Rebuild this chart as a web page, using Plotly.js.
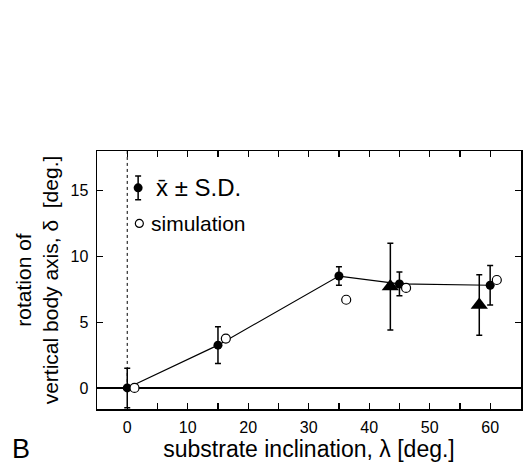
<!DOCTYPE html>
<html><head><meta charset="utf-8">
<script src="https://cdn.plot.ly/plotly-3.0.1.min.js"></script>
<style>body{margin:0;background:#fff}#c{width:524px;height:465px}</style>
</head><body><div id="c"></div>
<script>
// measured means ± S.D.
var meanX = [0, 15, 35, 45, 60];
var meanY = [0, 3.25, 8.5, 7.9, 7.8];
var meanSD = [1.5, 1.4, 0.7, 0.9, 1.5];
// triangles
var triX = [43.5, 58.2];
var triY = [7.7, 6.3];
var triSD = [3.3, 2.3];
// simulation
var simX = [1.2, 16.3, 36.2, 46.1, 61.1];
var simY = [0, 3.75, 6.7, 7.6, 8.2];
// legend keys
var keyMeanX = [1.8], keyMeanY = [15.2], keyMeanSD = [0.9];
var keySimX = [2.0], keySimY = [12.5];
var xTickVals = [0,5,10,15,20,25,30,35,40,45,50,55,60,65];
var xTickText = ['0','','10','','20','','30','','40','','50','','60',''];
var yTickVals = [0,5,10,15];

var font = 'Liberation Sans, Arial, sans-serif';
var traces = [
  {x: meanX, y: meanY, mode: 'lines+markers', type: 'scatter',
   line: {color: '#000', width: 1.2},
   marker: {color: '#000', size: 9, symbol: 'circle'},
   error_y: {type: 'data', array: meanSD, visible: true, color: '#000', thickness: 1.5, width: 3}},
  {x: triX, y: triY, mode: 'markers', type: 'scatter',
   marker: {color: '#000', size: 15, symbol: 'triangle-up'},
   error_y: {type: 'data', array: triSD, visible: true, color: '#000', thickness: 1.5, width: 3}},
  {x: simX, y: simY, mode: 'markers', type: 'scatter',
   marker: {color: '#fff', size: 9, symbol: 'circle', line: {color: '#000', width: 1.2}}},
  {x: keyMeanX, y: keyMeanY, mode: 'markers', type: 'scatter',
   marker: {color: '#000', size: 9},
   error_y: {type: 'data', array: keyMeanSD, visible: true, color: '#000', thickness: 1.5, width: 3}},
  {x: keySimX, y: keySimY, mode: 'markers', type: 'scatter',
   marker: {color: '#fff', size: 8, line: {color: '#000', width: 1.2}}}
];
var layout = {
  width: 524, height: 465,
  margin: {l: 97, r: 3, t: 151, b: 56},
  showlegend: false,
  paper_bgcolor: '#fff', plot_bgcolor: '#fff',
  font: {family: font, color: '#000', size: 16},
  xaxis: {range: [-5, 65.1], showgrid: false, zeroline: false,
    showline: true, linecolor: '#000', linewidth: 1.5, mirror: 'ticks',
    ticks: 'inside', ticklen: 6, tickwidth: 1.2, tickcolor: '#000', ticklabelstandoff: 3,
    tickvals: xTickVals, ticktext: xTickText, tickfont: {size: 16, family: font},
    title: {text: 'substrate inclination, λ [deg.]', font: {size: 23, family: font}, standoff: 1}},
  yaxis: {range: [-1.6, 18], showgrid: false, zeroline: true, zerolinecolor: '#000', zerolinewidth: 1.2,
    showline: true, linecolor: '#000', linewidth: 1.5, mirror: 'ticks',
    ticks: 'inside', ticklen: 6, tickwidth: 1.2, tickcolor: '#000', ticklabelstandoff: 4,
    tickvals: yTickVals, tickfont: {size: 16, family: font},
    title: {text: 'rotation of<br>vertical body axis, δ  [deg.]', font: {size: 21, family: font}, standoff: 6}},
  shapes: [
    {type: 'line', xref: 'x', yref: 'y', x0: 0, x1: 0, y0: 0, y1: 18,
     line: {color: '#000', width: 1, dash: 'dot'}}
  ],
  annotations: [
    {xref: 'x', yref: 'y', x: 4.5, y: 15.2, xanchor: 'left', yanchor: 'middle', showarrow: false,
     text: 'x\u0304 ± S.D.', font: {size: 24, family: font}},
    {xref: 'x', yref: 'y', x: 3.6, y: 12.5, xanchor: 'left', yanchor: 'middle', showarrow: false,
     text: 'simulation', font: {size: 21, family: font}},
    {xref: 'paper', yref: 'paper', x: -0.205, y: -0.155, xanchor: 'left', yanchor: 'middle', showarrow: false,
     text: 'B', font: {size: 27, family: font}}
  ]
};
Plotly.newPlot('c', traces, layout, {staticPlot: true, displayModeBar: false});
</script></body></html>
